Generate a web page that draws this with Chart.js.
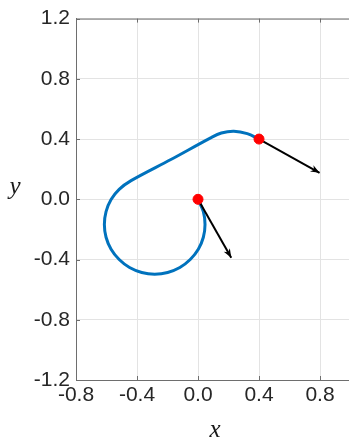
<!DOCTYPE html>
<html>
<head>
<meta charset="utf-8">
<script src="https://cdn.jsdelivr.net/npm/chart.js@4.4.1/dist/chart.umd.min.js"></script>
<style>
  html, body { margin: 0; padding: 0; background: #fff; }
  #plot { display: block; }
</style>
</head>
<body>
<canvas id="plot" width="349" height="440"></canvas>
<script>
// path (two turns joined by a straight run)
const pathX = [0.000, 0.035, 0.046, 0.035, 0.002, -0.051, -0.119, -0.199, -0.284, -0.369, -0.449, -0.517, -0.570, -0.603, -0.614, -0.603, -0.570, -0.517, -0.439, -0.178, 0.083, 0.153, 0.235, 0.323, 0.400];
const pathY = [0.000, -0.082, -0.167, -0.252, -0.332, -0.400, -0.453, -0.486, -0.497, -0.486, -0.453, -0.400, -0.332, -0.252, -0.167, -0.082, -0.002, 0.066, 0.124, 0.264, 0.408, 0.440, 0.452, 0.436, 0.400];

// red markers and the heading arrows leaving them
const markerX = [0.0, 0.4];
const markerY = [0.0, 0.4];
const arrowDX = [0.218, 0.397];
const arrowDY = [-0.388, -0.224];

const xTicks = [-0.8, -0.4, 0.0, 0.4, 0.8];
const yTicks = [-1.2, -0.8, -0.4, 0.0, 0.4, 0.8, 1.2];
const xLabel = "x";
const yLabel = "y";

const toPts = (xs, ys) => xs.map((x, i) => ({ x: x, y: ys[i] }));

const arrowSets = markerX.map((x0, i) => ({
  type: "line",
  data: [
    { x: x0, y: markerY[i] },
    { x: x0 + arrowDX[i], y: markerY[i] + arrowDY[i] },
  ],
  borderColor: "#000",
  borderWidth: 2,
  pointRadius: 0,
  tension: 0,
  order: 1,
  isArrow: true,
}));

// arrow heads, inward ticks, top frame and the axis letters
const decorations = {
  id: "decorations",
  afterDatasetsDraw(chart) {
    const ctx = chart.ctx;
    chart.data.datasets.forEach((ds, i) => {
      if (!ds.isArrow) return;
      const pts = chart.getDatasetMeta(i).data;
      const a = pts[0], b = pts[1];
      const ang = Math.atan2(b.y - a.y, b.x - a.x);
      const len = 9, half = 3.5;
      ctx.save();
      ctx.fillStyle = "#000";
      ctx.beginPath();
      ctx.moveTo(b.x, b.y);
      ctx.lineTo(b.x - len * Math.cos(ang) - half * Math.sin(ang), b.y - len * Math.sin(ang) + half * Math.cos(ang));
      ctx.lineTo(b.x - len * 0.7 * Math.cos(ang), b.y - len * 0.7 * Math.sin(ang));
      ctx.lineTo(b.x - len * Math.cos(ang) + half * Math.sin(ang), b.y - len * Math.sin(ang) - half * Math.cos(ang));
      ctx.closePath();
      ctx.fill();
      ctx.restore();
    });
  },
  afterDraw(chart) {
    const ctx = chart.ctx;
    const area = chart.chartArea;
    const xs = chart.scales.x, ys = chart.scales.y;
    ctx.save();
    ctx.strokeStyle = "#6e6e6e";
    ctx.lineWidth = 1;
    ctx.beginPath();
    ctx.moveTo(area.left, area.top + 0.5);
    ctx.lineTo(area.right, area.top + 0.5);
    xTicks.forEach((v) => {
      const px = Math.round(xs.getPixelForValue(v)) + 0.5;
      ctx.moveTo(px, area.bottom);
      ctx.lineTo(px, area.bottom - 4);
      ctx.moveTo(px, area.top);
      ctx.lineTo(px, area.top + 4);
    });
    yTicks.forEach((v) => {
      const py = Math.round(ys.getPixelForValue(v)) + 0.5;
      ctx.moveTo(area.left, py);
      ctx.lineTo(area.left + 4, py);
    });
    ctx.stroke();

    ctx.fillStyle = "#1a1a1a";
    ctx.font = "italic 25px 'Liberation Serif'";
    ctx.textAlign = "center";
    ctx.textBaseline = "alphabetic";
    ctx.fillText(yLabel, 15, 194);
    ctx.fillText(xLabel, 215, 437);
    ctx.restore();
  },
};

new Chart(document.getElementById("plot"), {
  type: "scatter",
  data: {
    datasets: [
      {
        type: "scatter",
        data: toPts(markerX, markerY),
        backgroundColor: "#ff0000",
        borderColor: "#ff0000",
        pointRadius: 5,
        order: 0,
      },
      ...arrowSets,
      {
        type: "line",
        data: toPts(pathX, pathY),
        borderColor: "#0072BD",
        borderWidth: 3,
        pointRadius: 0,
        tension: 0.35,
        fill: false,
        order: 2,
      },
    ],
  },
  options: {
    responsive: false,
    animation: false,
    devicePixelRatio: 1,
    layout: { autoPadding: false, padding: { top: 15, right: 0, left: 0, bottom: 0 } },
    plugins: {
      legend: { display: false },
      tooltip: { enabled: false },
    },
    scales: {
      x: {
        type: "linear",
        min: -0.8,
        max: 0.99,
        afterBuildTicks: (scale) => {
          scale.ticks = xTicks.map((v) => ({ value: v }));
        },
        afterFit: (scale) => {
          scale.height = 60;
        },
        ticks: {
          color: "#262626",
          font: { family: "'Liberation Sans', Arial", size: 21 },
          padding: 3,
          maxRotation: 0,
          callback: (v) => Number(v).toFixed(1),
        },
        grid: { color: "#e3e3e3", lineWidth: 1, drawTicks: false },
        border: { display: true, color: "#6e6e6e", width: 1 },
      },
      y: {
        type: "linear",
        min: -1.2,
        max: 1.2,
        afterBuildTicks: (scale) => {
          scale.ticks = yTicks.map((v) => ({ value: v }));
        },
        afterFit: (scale) => {
          scale.width = 76;
        },
        ticks: {
          color: "#262626",
          font: { family: "'Liberation Sans', Arial", size: 21 },
          padding: 6,
          callback: (v) => Number(v).toFixed(1),
        },
        grid: { color: "#e3e3e3", lineWidth: 1, drawTicks: false },
        border: { display: true, color: "#6e6e6e", width: 1 },
      },
    },
  },
  plugins: [decorations],
});
</script>
</body>
</html>
